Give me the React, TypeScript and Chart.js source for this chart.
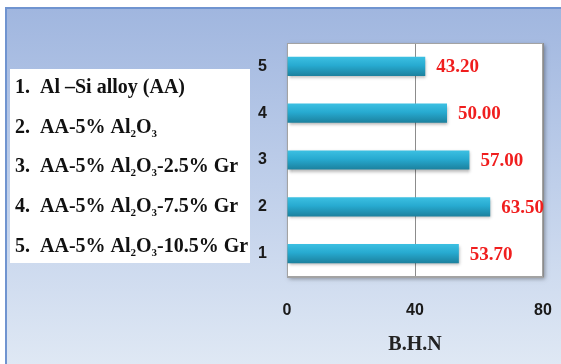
import React, { useEffect, useRef } from "react";
import { Chart, registerables } from "chart.js";

Chart.register(...registerables);

// Hardness samples (bottom to top)
const categories = ["1", "2", "3", "4", "5"];
const hardness = [53.7, 63.5, 57.0, 50.0, 43.2];
const xTicks = [0, 40, 80];
const axisTitle = "B.H.N";

// Composition key
const keyNumbers = ["1.", "2.", "3.", "4.", "5."];
const keyLabels = [
  "Al –Si alloy (AA)",
  "AA-5% Al₂O₃",
  "AA-5% Al₂O₃-2.5% Gr",
  "AA-5% Al₂O₃-7.5% Gr",
  "AA-5% Al₂O₃-10.5% Gr",
];

const SERIF = "'Liberation Serif', 'Times New Roman', serif";
const SANS = "'Liberation Sans', Arial, sans-serif";
const SUBS: Record<string, string> = { "₀": "0", "₁": "1", "₂": "2", "₃": "3", "₄": "4", "₅": "5" };

// Draws text where unicode subscript digits are set smaller and lowered
function drawRichText(ctx: CanvasRenderingContext2D, text: string, x: number, y: number, size: number) {
  let cx = x;
  let run = "";
  let runSub = false;
  const flush = () => {
    if (!run) return;
    const s = runSub ? Math.round(size * 0.55) : size;
    ctx.font = `bold ${s}px ${SERIF}`;
    const dy = runSub ? size * 0.2 : 0;
    ctx.fillText(run, cx, y + dy);
    cx += ctx.measureText(run).width;
    run = "";
  };
  for (const ch of text) {
    const isSub = ch in SUBS;
    if (isSub !== runSub) {
      flush();
      runSub = isSub;
    }
    run += isSub ? SUBS[ch] : ch;
  }
  flush();
}

const backdropPlugin = {
  id: "backdrop",
  beforeDraw(chart: any) {
    const { ctx, width, height, chartArea } = chart;
    ctx.save();
    ctx.fillStyle = "#ffffff";
    ctx.fillRect(0, 0, width, height);
    // panel gradient
    const g = ctx.createLinearGradient(0, 7, 0, height);
    g.addColorStop(0, "#a0b6df");
    g.addColorStop(0.5, "#bfcfea");
    g.addColorStop(1, "#dfe8f4");
    ctx.fillStyle = g;
    ctx.fillRect(5, 7, width - 5, height - 7);
    // panel edge
    ctx.fillStyle = "#7094d0";
    ctx.fillRect(5, 7, width - 5, 2);
    ctx.fillRect(5, 7, 2, height - 7);

    // plot area with soft shadow
    ctx.shadowColor = "rgba(0,0,0,0.35)";
    ctx.shadowBlur = 4;
    ctx.shadowOffsetX = 2;
    ctx.shadowOffsetY = 2;
    ctx.fillStyle = "#ffffff";
    ctx.fillRect(chartArea.left, chartArea.top, chartArea.right - chartArea.left, chartArea.bottom - chartArea.top);
    ctx.shadowColor = "transparent";

    // composition key box
    ctx.fillStyle = "#ffffff";
    ctx.fillRect(10, 69, 240, 194);
    ctx.fillStyle = "#111111";
    ctx.textBaseline = "alphabetic";
    ctx.textAlign = "left";
    const baselines = [93, 133, 172, 212, 252];
    keyLabels.forEach((label, i) => {
      ctx.font = `bold 20px ${SERIF}`;
      ctx.fillText(keyNumbers[i], 15, baselines[i]);
      drawRichText(ctx, label, 40, baselines[i], 20);
    });
    ctx.restore();
  },
  beforeDatasetsDraw(chart: any) {
    const { ctx, chartArea } = chart;
    ctx.save();
    ctx.strokeStyle = "#a3a3a3";
    ctx.lineWidth = 1;
    ctx.strokeRect(chartArea.left + 0.5, chartArea.top + 0.5, chartArea.right - chartArea.left - 1, chartArea.bottom - chartArea.top - 1);
    ctx.restore();
  },
  beforeDatasetDraw(chart: any) {
    const ctx = chart.ctx;
    ctx.save();
    ctx.shadowColor = "rgba(0,0,0,0.3)";
    ctx.shadowBlur = 3;
    ctx.shadowOffsetX = 1;
    ctx.shadowOffsetY = 2;
  },
  afterDatasetDraw(chart: any) {
    chart.ctx.restore();
  },
  afterDatasetsDraw(chart: any) {
    const { ctx } = chart;
    const meta = chart.getDatasetMeta(0);
    ctx.save();
    ctx.fillStyle = "#f01e1e";
    ctx.font = `bold 19px ${SERIF}`;
    ctx.textAlign = "left";
    ctx.textBaseline = "middle";
    meta.data.forEach((bar: any, i: number) => {
      ctx.fillText(hardness[i].toFixed(2), bar.x + 11, bar.y + 1);
    });
    ctx.restore();
  },
};

export default function App() {
  const canvasRef = useRef<HTMLCanvasElement | null>(null);

  useEffect(() => {
    if (!canvasRef.current) return;
    const chart = new Chart(canvasRef.current, {
      type: "bar",
      data: {
        labels: categories,
        datasets: [
          {
            data: hardness,
            barPercentage: 0.41,
            categoryPercentage: 1,
            borderWidth: 0,
            backgroundColor: (c: any) => {
              const ch = c.chart;
              const y = ch.scales?.y;
              if (!y || c.dataIndex === undefined) return "#27a8cc";
              const center = y.getPixelForValue(c.dataIndex);
              if (!Number.isFinite(center)) return "#27a8cc";
              const half = 9.5;
              const g = ch.ctx.createLinearGradient(0, center - half, 0, center + half);
              g.addColorStop(0, "#3cc0e2");
              g.addColorStop(0.45, "#27aad0");
              g.addColorStop(1, "#1c819e");
              return g;
            },
          },
        ],
      },
      options: {
        indexAxis: "y",
        responsive: false,
        animation: false,
        layout: { padding: { left: 247, right: 18, top: 43, bottom: 0 } },
        plugins: {
          legend: { display: false },
          tooltip: { enabled: false },
        },
        scales: {
          x: {
            min: xTicks[0],
            max: xTicks[xTicks.length - 1],
            afterBuildTicks: (scale: any) => {
              scale.ticks = xTicks.map((v) => ({ value: v }));
            },
            afterFit: (scale: any) => {
              scale.height = 87;
              scale.paddingLeft = 0;
              scale.paddingRight = 0;
            },
            grid: { color: "#8c8c8c", drawTicks: false, lineWidth: 1 },
            border: { display: true, color: "#a3a3a3" },
            ticks: {
              padding: 24,
              color: "#1a1a1a",
              font: { family: SANS, size: 16, weight: "bold" },
            },
            title: {
              display: true,
              text: axisTitle,
              color: "#222222",
              font: { family: SERIF, size: 20, weight: "bold" },
              padding: { top: 0, bottom: 7 },
            },
          },
          y: {
            reverse: true,
            afterFit: (scale: any) => {
              scale.width = 40;
              scale.paddingTop = 0;
              scale.paddingBottom = 0;
            },
            grid: { display: false, drawTicks: false },
            border: { display: false },
            ticks: {
              padding: 20,
              color: "#1a1a1a",
              font: { family: SANS, size: 16, weight: "bold" },
            },
          },
        },
      },
      plugins: [backdropPlugin],
    } as any);
    return () => chart.destroy();
  }, []);

  return (
    <div style={{ position: "fixed", left: 0, top: 0, width: 561, height: 364 }}>
      <canvas ref={canvasRef} width={561} height={364} />
    </div>
  );
}
